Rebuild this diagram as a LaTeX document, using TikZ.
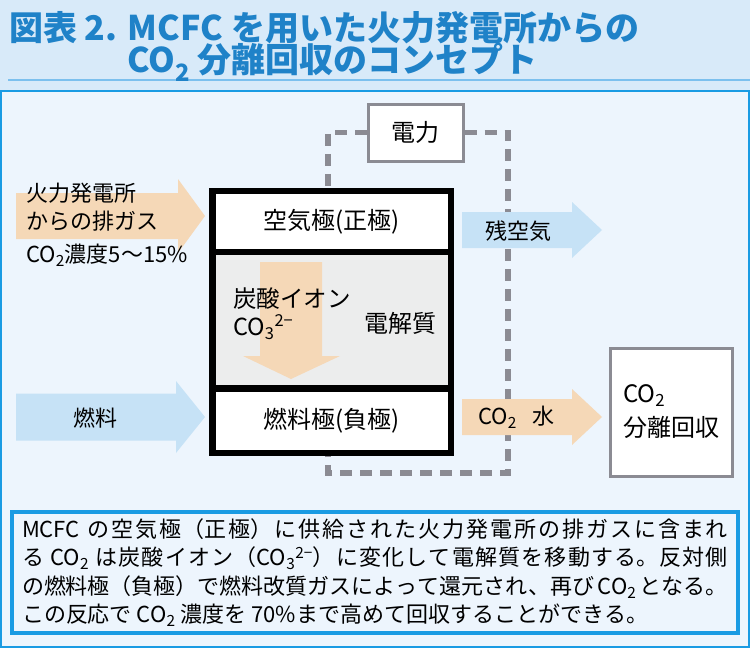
\documentclass[tikz,border=0pt]{standalone}
\usepackage{fontspec}
\setmainfont{Noto Sans CJK JP}
\usepackage{tikz}
\usetikzlibrary{positioning}
\definecolor{titleblue}{HTML}{1F82C8}
\definecolor{titlebg}{HTML}{D8EAF9}
\definecolor{ruleblue}{HTML}{7CC0EE}
\definecolor{panelblue}{HTML}{1A9BE3}
\definecolor{panelbg}{HTML}{EDF5FD}
\definecolor{peach}{HTML}{F5D8B7}
\definecolor{skyblue}{HTML}{C6E2F6}
\definecolor{elytegray}{HTML}{ECEDED}
\definecolor{wiregray}{HTML}{8B8B93}
\XeTeXlinebreaklocale "ja"
\XeTeXlinebreakskip=0pt plus 2pt
\newcommand{\cotwo}{CO\textsubscript{2}}
% block arrow: colour, start x, head x, tip x, mid y, half shaft, half head
\newcommand{\blockarrow}[7]{%
  \fill[#1] (#2,#5-#6) -- (#3,#5-#6) -- (#3,#5-#7) -- (#4,#5) -- (#3,#5+#7) -- (#3,#5+#6) -- (#2,#5+#6) -- cycle;}

\begin{document}
\begin{tikzpicture}[
  x=1pt, y=-1pt,
  titletext/.style={text=titleblue, font=\fontsize{34}{36}\selectfont\bfseries, inner sep=0pt},
  cell/.style={draw=black, line width=6.5pt, minimum width=238.5pt, outer sep=0pt, inner sep=0pt, font=\fontsize{24}{28}\selectfont},
  gbox/.style={draw=wiregray, line width=3pt, fill=white, inner sep=0pt, font=\fontsize{24}{34}\selectfont},
  lbl/.style={inner sep=0pt, font=\fontsize{22}{28}\selectfont},
  wire/.style={draw=wiregray, line width=5.5pt, dash pattern=on 12pt off 8pt},
  notebox/.style={draw=panelblue, line width=4pt, fill=panelbg, minimum width=726pt, minimum height=121pt, text width=706pt, align=justify, inner sep=0pt, font=\fontsize{22}{28.5}\selectfont}
]
\useasboundingbox (0,0) rectangle (750,648);

% title band
\fill[titlebg] (0,0) rectangle (750,90);
\draw[ruleblue, line width=1.5pt] (8,80) -- (750,80);
\node[titletext, anchor=west] (title1) at (9,28) {図表 2. MCFC を用いた火力発電所からの};
\node[titletext, anchor=west] (title2) at (127,62) {\cotwo{} 分離回収のコンセプト};

% panel
\draw[panelblue, fill=panelbg, line width=2pt] (1,91) rectangle (749,647);

% power box and wiring
\node[gbox, minimum width=95pt, minimum height=57pt] (power) at (415.5,132.5) {電力};
\coordinate (bus) at (508,473);

% cell stack
\node[cell, fill=white, minimum height=61pt] (air) at (331.75,221.5) {空気極(正極)};
\node[cell, fill=elytegray, minimum height=136.5pt, below=0pt of air] (elyte) {};
\node[cell, fill=white, minimum height=64.5pt, below=0pt of elyte] (fuel) {燃料極(負極)};

\draw[wire] (power.west) -| ([xshift=-4pt]air.north);
\draw[wire] (power.east) -| (bus) -| ([xshift=-4pt]fuel.south);
% redraw stack borders over the wire ends
\draw[black, line width=6.5pt] (air.north west) rectangle (fuel.south east);

% ion flow
\fill[peach] (260,262) -- (322,262) -- (322,356) -- (340,356) -- (291,379) -- (243,356) -- (260,356) -- cycle;
\node[lbl, anchor=west, align=left, font=\fontsize{23.5}{28}\selectfont] (ion) at (233,314) {炭酸イオン\\CO\textsubscript{3}\textsuperscript{2−}};
\node[lbl, font=\fontsize{24}{28}\selectfont] (elytelbl) at (400.5,323) {電解質};

% flows in and out
\blockarrow{peach}{16}{178}{205}{216}{23}{37}
\blockarrow{skyblue}{16}{176}{205}{417}{23.5}{36}
\blockarrow{skyblue}{462}{572}{602}{230}{18}{28}
\blockarrow{peach}{462}{572}{602}{417}{18}{28}

\node[lbl, anchor=west, align=left] (exhaust) at (26,207) {火力発電所\\からの排ガス};
\node[lbl, anchor=west] (conc) at (26,255) {\cotwo 濃度5〜15\%};
\node[lbl] (fuelin) at (95,418) {燃料};
\node[lbl] (offair) at (518,231) {残空気};
\node[lbl, anchor=west] (co2out) at (478,417) {\cotwo\hspace{16pt}水};

% recovery
\node[gbox, minimum width=122pt, minimum height=128pt, align=left] (recov) at (671,412) {\cotwo\\分離回収};

% explanation
\node[notebox] (note) at (375,572.5) {MCFC の空気極（正極）に供給された火力発電所の排ガスに含まれ\linebreak る \cotwo{} は炭酸イオン（CO\textsubscript{3}\textsuperscript{2−}）に変化して電解質を移動する。反対側\linebreak の燃料極（負極）で燃料改質ガスによって還元され、再び \cotwo{} となる。\linebreak この反応で \cotwo{} 濃度を 70\%まで高めて回収することができる。};
\end{tikzpicture}
\end{document}
